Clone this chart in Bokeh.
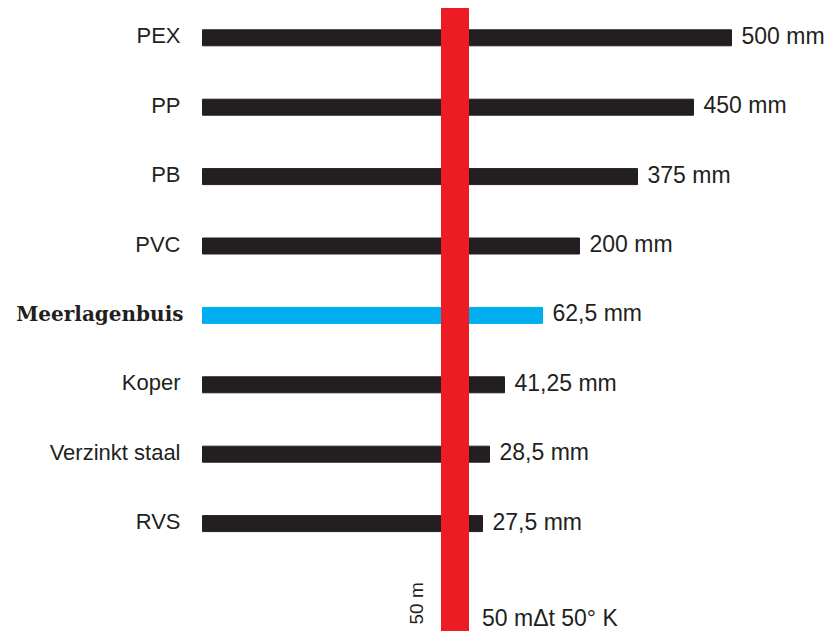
import math
from bokeh.plotting import figure
from bokeh.models import ColumnDataSource, Range1d
from bokeh.embed import file_html
from bokeh.resources import INLINE
from bokeh.core.properties import value

# ---- data ----
materials = ["PEX", "PP", "PB", "PVC", "Meerlagenbuis", "Koper", "Verzinkt staal", "RVS"]
expansion_labels = ["500 mm", "450 mm", "375 mm", "200 mm", "62,5 mm", "41,25 mm", "28,5 mm", "27,5 mm"]
bar_lengths = [529, 491, 435, 377, 340, 302, 287, 280]   # drawn lengths
highlight = "Meerlagenbuis"
pipe_label = "50 m"
condition_label = "50 mΔt 50° K"

# ---- styles ----
BLACK = "#231F20"
BLUE = "#00AEEF"
RED = "#ED1C24"
W, H = 830, 631
X0 = 202                      # px where bars start
ROW0, ROW_STEP = 37.3, 69.4   # px position of first row, spacing


def y_at(px):
    return (px - ROW0) / ROW_STEP


idx = list(range(len(materials)))
colors = [BLUE if m == highlight else BLACK for m in materials]
src = ColumnDataSource(dict(y=idx, length=bar_lengths, mat=materials,
                            lab=expansion_labels, color=colors))

p = figure(width=W, height=H, output_backend="svg", toolbar_location=None,
           x_range=Range1d(-X0, W - X0), y_range=Range1d(y_at(H), y_at(0)),
           min_border=0)
p.axis.visible = False
p.grid.visible = False
p.outline_line_color = None
p.background_fill_color = "white"
p.border_fill_color = "white"

# bars
p.hbar(y="y", left=0, right="length", height=16 / ROW_STEP, color="color", source=src)

# red pipe column (drawn on top)
pipe_center, pipe_width = 252.5, 27
p.quad(left=pipe_center - pipe_width / 2, right=pipe_center + pipe_width / 2,
       top=y_at(8), bottom=y_at(H + 5), color=RED)

# category labels
normal = [i for i, m in enumerate(materials) if m != highlight]
hl = [i for i, m in enumerate(materials) if m == highlight]
p.text(x=[-22] * len(normal), y=[idx[i] for i in normal], text=[materials[i] for i in normal],
       text_align="right", text_baseline="middle", y_offset=-2,
       text_font=value("Liberation Sans"), text_font_size="22px", text_color=BLACK)
p.text(x=[-19] * len(hl), y=[idx[i] for i in hl], text=[materials[i] for i in hl],
       text_align="right", text_baseline="middle", y_offset=-1,
       text_font=value("DejaVu Serif"), text_font_style="bold",
       text_font_size="20px", text_color=BLACK)

# value labels
p.text(x="length", y="y", text="lab", source=src, x_offset=10, y_offset=-2,
       text_align="left", text_baseline="middle",
       text_font=value("Liberation Sans"), text_font_size="23px", text_color=BLACK)

# bottom labels
p.text(x=[pipe_center - 39], y=[y_at(624)], text=[pipe_label], angle=math.pi / 2,
       text_align="left", text_baseline="middle",
       text_font=value("Liberation Sans"), text_font_size="19px", text_color=BLACK)
p.text(x=[pipe_center + 27], y=[y_at(617)], text=[condition_label],
       text_align="left", text_baseline="middle",
       text_font=value("Liberation Sans"), text_font_size="23px", text_color=BLACK)

open("out.html", "w").write(file_html(p, INLINE))
